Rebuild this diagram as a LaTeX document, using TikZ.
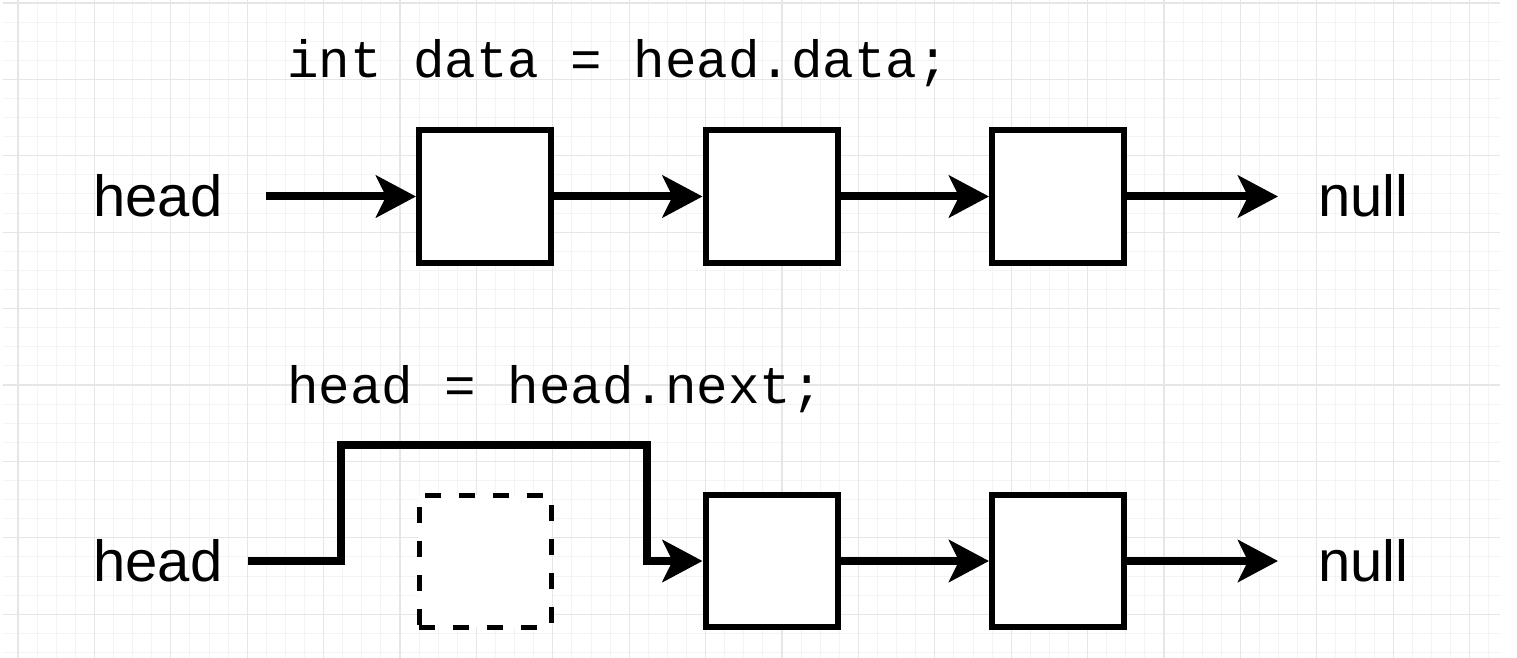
\documentclass[tikz,border=0pt]{standalone}
\usepackage{fontspec}
\setmainfont{Liberation Sans}
\setmonofont{Liberation Mono}
\usetikzlibrary{arrows.meta, positioning}
\definecolor{gridmajor}{HTML}{E6E6E6}
\definecolor{gridminor}{HTML}{F4F4F4}
\tikzstyle{link} = [line width=4pt, -{Stealth[length=20pt, width=21pt, inset=5pt]}]
\tikzstyle{cell} = [rectangle, minimum width=66pt, minimum height=66pt, inner sep=0pt, draw=black, line width=3pt, fill=white]
\tikzstyle{ghost} = [cell, line width=2.5pt, dash pattern=on 8pt off 9pt]
\tikzstyle{word} = [inner sep=0pt, anchor=base west, font=\fontsize{29pt}{34pt}\selectfont]
\tikzstyle{code} = [inner sep=0pt, anchor=base west, font=\ttfamily\fontsize{26.25pt}{32pt}\selectfont]

\begin{document}
\begin{tikzpicture}[x=0.5pt, y=-0.5pt]
\useasboundingbox (0,0) rectangle (1517,658);

% Grid paper
\foreach \k [evaluate=\k as \gx using 18+19.1*\k] in {0,...,77}
  \draw[gridminor, line width=0.5pt] (\gx,0) -- (\gx,658);
\foreach \k [evaluate=\k as \gy using 3+19.1*\k] in {0,...,34}
  \draw[gridminor, line width=0.5pt] (3,\gy) -- (1500,\gy);
\foreach \k [evaluate=\k as \gx using 18+76.4*\k] in {0,...,19}
  \draw[gridmajor, line width=0.6pt] (\gx,0) -- (\gx,658);
\foreach \k [evaluate=\k as \gy using 3+76.4*\k] in {0,...,8}
  \draw[gridmajor, line width=0.6pt] (3,\gy) -- (1500,\gy);

% Reading the data
\node (code1) [code] at (287,78) {int data = head.data;};
\node (head1) [word] at (93,217) {head};
\node (null1) [word] at (1318,217) {null};
\node (a1) [cell] at (485,196.5) {};
\node (a2) [cell, right=74.25pt of a1] {};
\node (a3) [cell, right=74.25pt of a2] {};

\coordinate (end1) at ([xshift=-20pt]null1.west);
\draw [link] ([xshift=21.5pt]head1.east |- a1) -- (a1);
\draw [link] (a1) -- (a2);
\draw [link] (a2) -- (a3);
\draw [link] (a3) -- (end1 |- a3);

% Moving head on
\node (code2) [code] at (287,403) {head = head.next;};
\node (head2) [word] at (93,581) {head};
\node (null2) [word] at (1318,581) {null};
\node (b0) [ghost] at (485,561) {};
\node (b1) [cell, below=113.25pt of a2] {};
\node (b2) [cell, below=113.25pt of a3] {};

\coordinate (bendA) at (341,445);
\coordinate (bendB) at (647,445);
\coordinate (end2) at ([xshift=-20pt]null2.west);
\draw [link] ([xshift=12.5pt]head2.east |- b1) -| (bendA) -- (bendB) |- (b1.west);
\draw [link] (b1) -- (b2);
\draw [link] (b2) -- (end2 |- b2);

\end{tikzpicture}
\end{document}
